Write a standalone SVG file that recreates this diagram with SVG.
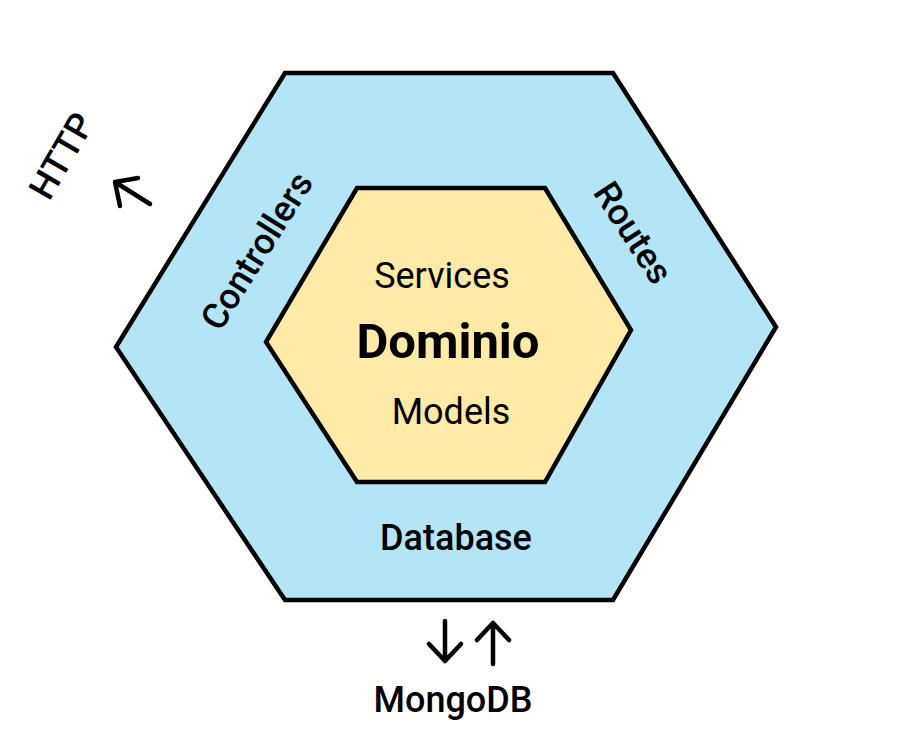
<svg xmlns="http://www.w3.org/2000/svg" width="901" height="733" viewBox="0 0 901 733">
  <style>
    .hex { stroke: #000; stroke-width: 4.5; stroke-linejoin: miter; }
    .t { font-family: Roboto, "Liberation Sans", sans-serif; fill: #000; text-anchor: middle; }
    .n { font-size: 36px; }
    .m { font-size: 36px; font-weight: 500; }
    .b { font-size: 49px; font-weight: 700; }
    .arr { fill: none; stroke: #000; stroke-width: 4.5; stroke-linecap: round; stroke-linejoin: round; }
  </style>
  <rect width="901" height="733" fill="#fff"/>
  <g id="outer">
    <polygon class="hex" fill="#b3e5f7" points="285,73 613,73 776,327 613,600 285,600 116,347"/>
    <text class="t m" transform="translate(257,251) rotate(-58)" y="12">Controllers</text>
    <text class="t m" transform="translate(633,233) rotate(57)" y="12">Routes</text>
    <text class="t m" x="456" y="550">Database</text>
  </g>
  <g id="inner">
    <polygon class="hex" fill="#ffeaa7" points="357,188 545,188 631,330 545,482 357,482 266,342"/>
    <text class="t n" x="442" y="288">Services</text>
    <text class="t b" x="448" y="358">Dominio</text>
    <text class="t n" x="451" y="424">Models</text>
  </g>
  <g id="http">
    <text class="t m" transform="translate(62,156) rotate(-60)" y="12">HTTP</text>
  </g>
  <g id="mongodb">
    <text class="t m" x="453" y="712">MongoDB</text>
  </g>
  <g id="connectors">
    <path class="arr" d="M150,204 L115,182 M138,178 L115,182 L120,206"/>
    <path class="arr" d="M445,621 L445,661 M429,644 L445,661 L461,644"/>
    <path class="arr" d="M493,664 L493,623 M477,640 L493,623 L509,640"/>
  </g>
</svg>
